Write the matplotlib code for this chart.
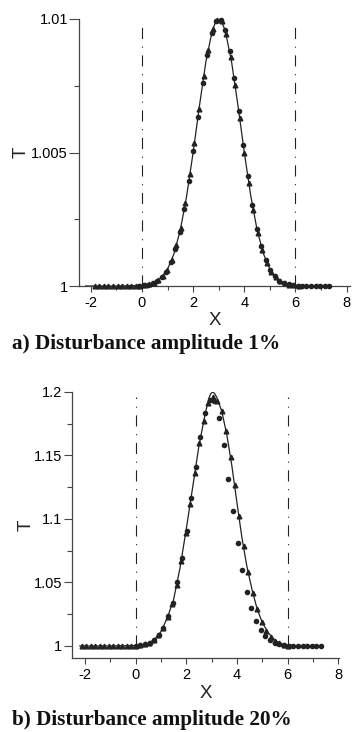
import matplotlib
matplotlib.use("Agg")
import matplotlib.pyplot as plt
from matplotlib.ticker import MultipleLocator, FuncFormatter

plt.rcParams["font.family"] = ["Liberation Sans", "DejaVu Sans"]
plt.rcParams["axes.unicode_minus"] = False
plt.rcParams["lines.scale_dashes"] = False

# ---- panel a: 1% disturbance ----
curve_a_x = [-2.2, -1.0, 0.0, 0.25, 0.5, 0.75, 1.0, 1.25, 1.5, 1.75, 2.0, 2.25,
             2.5, 2.75, 2.9, 3.0, 3.1, 3.25, 3.5, 3.75, 4.0, 4.25, 4.5, 4.75,
             5.0, 5.25, 5.5, 5.75, 6.0, 6.5, 7.35]
curve_a_t = [1.0, 1.0, 1.00002, 1.00005, 1.00013, 1.0003, 1.00063, 1.0012,
             1.0021, 1.00339, 1.005, 1.00677, 1.00841, 1.00958, 1.00993, 1.01,
             1.00993, 1.00958, 1.00841, 1.00677, 1.005, 1.00339, 1.0021,
             1.0012, 1.00063, 1.0003, 1.00013, 1.00005, 1.00002, 1.0, 1.0]

tri_a_x = [-1.84, -1.66, -1.48, -1.31, -1.13, -0.95, -0.78, -0.60, -0.42, -0.24,
           -0.07, 0.11, 0.29, 0.46, 0.64, 0.82, 0.99, 1.17, 1.35, 1.52, 1.70,
           1.88, 2.05, 2.23, 2.41, 2.58, 2.76, 2.94, 3.11, 3.29, 3.47, 3.64,
           3.82, 4.00, 4.17, 4.35, 4.53, 4.70, 4.88, 5.06, 5.23, 5.41, 5.59,
           5.76, 5.94, 6.12]
tri_a_t = [1.0, 1.0, 1.0, 1.0, 1.0, 1.0, 1.0, 1.0, 1.0, 1.0,
           1.00001, 1.00003, 1.00006, 1.00011, 1.00021, 1.00037, 1.00061,
           1.00098, 1.00152, 1.00219, 1.0031, 1.00419, 1.00535, 1.00663,
           1.00786, 1.00885, 1.00961, 1.00998, 1.00992, 1.00943, 1.00858,
           1.00753, 1.00628, 1.005, 1.00387, 1.00283, 1.00197, 1.00135,
           1.00086, 1.00053, 1.00032, 1.00018, 1.0001, 1.00005, 1.00003, 1.00001]

dot_a_x = [-0.11, 0.07, 0.25, 0.42, 0.60, 0.78, 0.95, 1.13, 1.31, 1.48, 1.66,
           1.84, 2.01, 2.19, 2.37, 2.54, 2.72, 2.90, 3.07, 3.25, 3.43, 3.60,
           3.78, 3.96, 4.13, 4.31, 4.49, 4.66, 4.84, 5.02, 5.19, 5.37, 5.55,
           5.73, 5.90, 6.08, 6.26, 6.43, 6.61, 6.79, 6.96, 7.14, 7.32]
dot_a_t = [1.00001, 1.00003, 1.00005, 1.0001, 1.00018, 1.00033, 1.00054,
           1.00089, 1.00138, 1.00202, 1.00288, 1.00393, 1.00507, 1.00634,
           1.0076, 1.00864, 1.00947, 1.00993, 1.00997, 1.00958, 1.0088,
           1.00779, 1.00656, 1.00528, 1.00413, 1.00304, 1.00215, 1.00148,
           1.00096, 1.00059, 1.00036, 1.0002, 1.00011, 1.00006, 1.00003,
           1.00001, 1.0, 1.0, 1.0, 1.0, 1.0, 1.0, 1.0]

# ---- panel b: 20% disturbance ----
curve_b_x = [-2.2, -1.0, 0.0, 0.25, 0.5, 0.75, 1.0, 1.25, 1.5, 1.75, 2.0, 2.25,
             2.5, 2.75, 2.9, 2.97, 3.05, 3.12, 3.2, 3.4, 3.6, 3.8, 4.0, 4.2,
             4.4, 4.6, 4.8, 5.0, 5.25, 5.5, 5.75, 6.0, 6.5, 7.35]
curve_b_t = [1.0, 1.0, 1.0003, 1.0009, 1.0022, 1.005, 1.0112, 1.022, 1.0365,
             1.061, 1.092, 1.1245, 1.1575, 1.183, 1.1955, 1.1988, 1.2, 1.1988,
             1.196, 1.185, 1.1665, 1.142, 1.113, 1.085, 1.062, 1.044, 1.029,
             1.0185, 1.01, 1.0045, 1.0018, 1.0006, 1.0, 1.0]

tri_b_x = [-2.13, -1.95, -1.77, -1.59, -1.41, -1.24, -1.06, -0.88, -0.70, -0.53,
           -0.35, -0.17, 0.01, 0.19, 0.37, 0.54, 0.72, 0.90, 1.08, 1.26, 1.44,
           1.62, 1.80, 1.98, 2.16, 2.34, 2.52, 2.69, 2.87, 3.05, 3.22, 3.40,
           3.57, 3.75, 3.92, 4.10, 4.27, 4.45, 4.62, 4.80, 4.98, 5.15, 5.33,
           5.50, 5.68, 5.85, 6.03]
tri_b_t = [1.0, 1.0, 1.0, 1.0, 1.0, 1.0, 1.0, 1.0, 1.0, 1.0, 1.0, 1.0, 1.0,
           1.0007, 1.0013, 1.0025, 1.0045, 1.0085, 1.014, 1.0225, 1.033, 1.048,
           1.067, 1.089, 1.112, 1.1365, 1.1596, 1.1772, 1.1916, 1.196, 1.193,
           1.185, 1.169, 1.149, 1.127, 1.102, 1.079, 1.058, 1.042, 1.029,
           1.019, 1.012, 1.007, 1.004, 1.002, 1.001, 1.0]

dot_b_x = [0.00, 0.18, 0.37, 0.55, 0.73, 0.91, 1.10, 1.28, 1.46, 1.65, 1.83,
           2.01, 2.19, 2.38, 2.56, 2.74, 2.93, 3.11, 3.29, 3.48, 3.66, 3.84,
           4.03, 4.21, 4.39, 4.57, 4.76, 4.94, 5.12, 5.31, 5.49, 5.67, 5.86,
           6.04, 6.22, 6.40, 6.59, 6.77, 6.95, 7.14, 7.32]
dot_b_t = [1.0, 1.0006, 1.0013, 1.0026, 1.0047, 1.0088, 1.0145, 1.0232, 1.034,
           1.05, 1.069, 1.0908, 1.1163, 1.1412, 1.1648, 1.1837, 1.1937, 1.193,
           1.1795, 1.158, 1.1317, 1.1063, 1.0809, 1.0598, 1.0428, 1.0297,
           1.0197, 1.0126, 1.0079, 1.0045, 1.0025, 1.0012, 1.0005, 1.0, 1.0,
           1.0, 1.0, 1.0, 1.0, 1.0, 1.0]

boundaries = [0, 6]
ink = "#222222"
axis_col = "#444444"


def draw_panel(ax, cx, ct, tx, tt, dx, dt, xlim, ylim, ymaj, ymin, ytop,
               ylab_x, xlab_y, ytick_len):
    ax.plot(cx, ct, color=ink, lw=0.9, zorder=3)
    ax.plot(tx, tt, ls="none", marker="^", ms=3.4, color=ink, mec=ink,
            clip_on=False, zorder=4)
    ax.plot(dx, dt, ls="none", marker="o", ms=3.0, color=ink, mec=ink,
            clip_on=False, zorder=4)
    ax.vlines(boundaries, 1.0, ytop, colors=ink, lw=0.8,
              linestyles=[(0, (8, 5.5, 0.8, 5.5))], zorder=2)

    ax.set_xlim(*xlim)
    ax.set_ylim(*ylim)
    for s in ("top", "right"):
        ax.spines[s].set_visible(False)
    for s in ("left", "bottom"):
        ax.spines[s].set_color(axis_col)
        ax.spines[s].set_linewidth(0.9)

    ax.xaxis.set_major_locator(MultipleLocator(2))
    ax.xaxis.set_minor_locator(MultipleLocator(1))
    ax.yaxis.set_major_locator(MultipleLocator(ymaj))
    ax.yaxis.set_minor_locator(MultipleLocator(ymin))
    ax.yaxis.set_major_formatter(FuncFormatter(lambda v, p: "%g" % round(v, 4)))
    ax.xaxis.set_major_formatter(FuncFormatter(lambda v, p: "%d" % round(v)))

    ax.tick_params(axis="x", which="major", direction="out", length=4.6,
                   width=0.8, color=axis_col, labelsize=10.5, pad=2.5)
    ax.tick_params(axis="x", which="minor", direction="out", length=3.0,
                   width=0.8, color=axis_col)
    ax.tick_params(axis="y", which="major", direction="out", length=ytick_len,
                   width=0.8, color=axis_col, labelsize=10.5, pad=1)
    ax.tick_params(axis="y", which="minor", direction="out", length=3.6,
                   width=0.8, color=axis_col)

    ax.set_xlabel("X", fontsize=13.5, color=ink)
    ax.xaxis.set_label_coords(0.5, xlab_y)
    ax.set_ylabel("T", fontsize=13.5, color=ink)
    ax.yaxis.set_label_coords(ylab_x, 0.5)
    ax.patch.set_visible(False)


fig = plt.figure(figsize=(3.52, 7.32), dpi=100)

ax_a = fig.add_axes([79 / 352, 446 / 732, 271 / 352, 267 / 732])
draw_panel(ax_a, curve_a_x, curve_a_t, tri_a_x, tri_a_t, dot_a_x, dot_a_t,
           (-2.46, 8.13), (1.0, 1.01), 0.005, 0.0025, 1.0098,
           -0.183, -0.098, 7.0)

ax_b = fig.add_axes([72 / 352, 74 / 732, 267 / 352, 266 / 732])
draw_panel(ax_b, curve_b_x, curve_b_t, tri_b_x, tri_b_t, dot_b_x, dot_b_t,
           (-2.51, 8.03), (0.9905, 1.2), 0.05, 0.025, 1.196,
           -0.14, -0.102, 6.0)

cap = dict(family=["Liberation Serif", "DejaVu Serif"], fontweight="bold",
           fontsize=15.3, color="#111111", va="center", ha="left")
fig.text(12 / 352, 1 - 344 / 732, "a) Disturbance amplitude 1%", **cap)
fig.text(12 / 352, 1 - 720 / 732, "b) Disturbance amplitude 20%", **cap)

fig.savefig("out.png", dpi=100)
